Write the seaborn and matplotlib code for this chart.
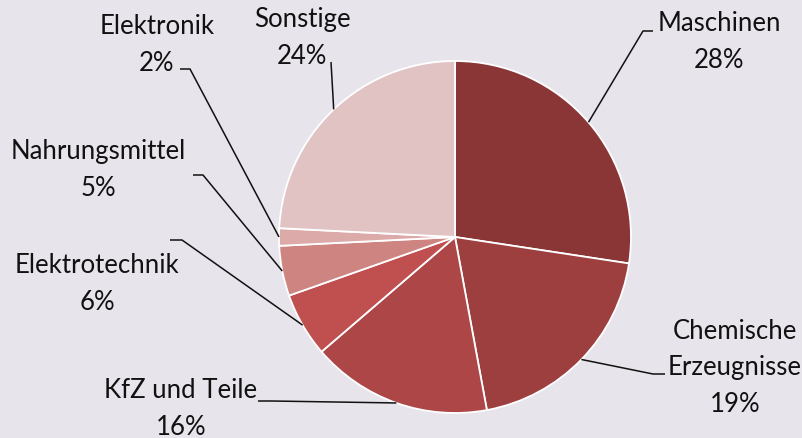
import numpy as np
import matplotlib
matplotlib.use("Agg")
import matplotlib.pyplot as plt
import seaborn as sns

# data (shares in %, clockwise from 12 o'clock)
categories = ["Maschinen", "Chemische\nErzeugnisse", "KfZ und Teile", "Elektrotechnik",
              "Nahrungsmittel", "Elektronik", "Sonstige"]
shares = [27.4, 19.7, 16.6, 5.9, 4.6, 1.6, 24.2]
pct_labels = ["28%", "19%", "16%", "6%", "5%", "2%", "24%"]
colors = ["#8A3636", "#9E3F3F", "#AD4747", "#C05050", "#CE8582", "#DDAAAA", "#E2C3C4"]

# layout in image pixels (x, y from top): text centre, elbow, tail end
W, H = 803, 439
text_pos = [(719, 42), (735, 368), (181, 409), (97, 284), (98, 170), (157, 45), (302, 38)]
elbow = [(643, 32), (653, 375), (272, 402), (182, 241), (203, 176), (190, 70), (331, 63)]
tail = [(653, 32), (665, 375), (258, 402), (170, 241), (193, 176), (180, 70), (331, 63)]

bg = "#E7E4EB"
sns.set_theme(style="white", rc={"figure.facecolor": bg, "axes.facecolor": bg})
plt.rcParams["font.family"] = ["Lato", "DejaVu Sans"]

fig = plt.figure(figsize=(W / 100, H / 100), dpi=100)
ax = fig.add_axes([0, 0, 1, 1])

cx, cy, r = 455, H - 238, 176
wedges, _ = ax.pie(shares, colors=sns.color_palette(colors), startangle=90, counterclock=False,
                   center=(cx, cy), radius=r, frame=True,
                   wedgeprops=dict(edgecolor="white", linewidth=1.3))
ax.set_xlim(0, W)
ax.set_ylim(0, H)
ax.set_aspect("equal")
ax.axis("off")

for w, cat, pct, tp, el, tl in zip(wedges, categories, pct_labels, text_pos, elbow, tail):
    ang = np.deg2rad((w.theta1 + w.theta2) / 2)
    px, py = cx + r * np.cos(ang), cy + r * np.sin(ang)
    ax.plot([px, el[0], tl[0]], [py, H - el[1], H - tl[1]], color="#111111", lw=1.1,
            solid_capstyle="butt")
    ax.text(tp[0], H - tp[1], f"{cat}\n{pct}", ha="center", va="center",
            multialignment="center", fontsize=18.5, color="#111111", linespacing=1.56)

fig.savefig("out.png", dpi=100, facecolor=bg)
